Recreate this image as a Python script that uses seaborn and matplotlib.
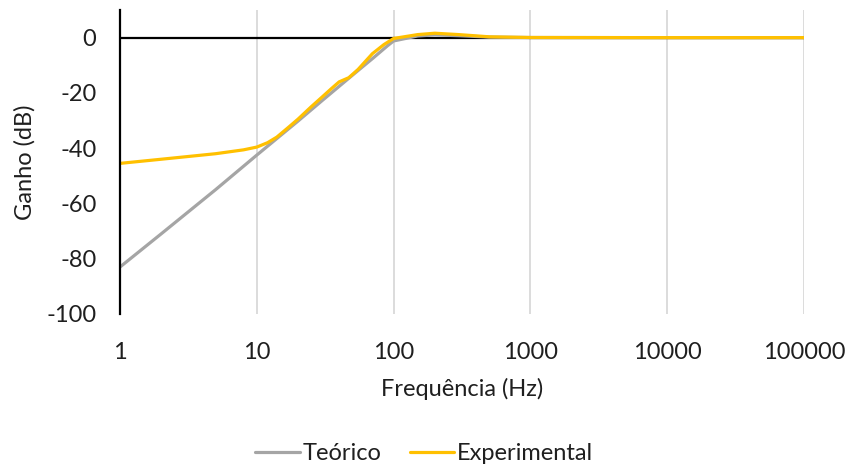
import matplotlib
matplotlib.use("Agg")
import matplotlib.pyplot as plt
import matplotlib.ticker as mticker
from matplotlib.lines import Line2D
import seaborn as sns
import pandas as pd

# Theoretical response of the high-pass filter (dB)
freq_teo = [1, 2, 5, 10, 15, 20, 30, 50, 70, 90, 100, 150, 200, 300, 500, 1000, 10000, 100000]
gain_teo = [-83, -71, -55, -42.5, -35.3, -30.2, -22.8, -13.6, -7.6, -3.0, -1.2, 0.6, 1.0, 0.7, 0.2, 0.05, 0, 0]

# Measured response (dB)
freq_exp = [1, 2, 5, 8, 10, 12, 14, 17, 20, 25, 30, 35, 40, 47, 55, 70, 85, 100, 150, 200, 300, 500, 1000, 10000, 100000]
gain_exp = [-45.5, -44.0, -42.0, -40.6, -39.6, -38.0, -36.0, -32.5, -29.5, -25.0, -21.5, -18.5, -16.0, -14.5, -11.5, -5.8, -2.5, -0.3, 1.1, 1.6, 1.1, 0.3, 0.05, 0, 0]

series_names = ["Teórico", "Experimental"]
series_colors = ["#A5A5A5", "#FFC000"]

y_ticks = [-100, -80, -60, -40, -20, 0]
x_ticks = [1, 10, 100, 1000, 10000, 100000]
x_tick_labels = ["1", "10", "100", "1000", "10000", "100000"]

df = pd.concat([
    pd.DataFrame({"freq": freq_teo, "gain": gain_teo, "serie": series_names[0]}),
    pd.DataFrame({"freq": freq_exp, "gain": gain_exp, "serie": series_names[1]}),
], ignore_index=True)

sns.set_style("white")
plt.rcParams["font.family"] = ["Lato", "DejaVu Sans"]
text_color = "#1f1f1f"

fig = plt.figure(figsize=(8.48, 4.68), dpi=100)
ax = fig.add_axes([120 / 848, 1 - 314 / 468, (804 - 120) / 848, (314 - 10) / 468])

sns.lineplot(data=df, x="freq", y="gain", hue="serie", hue_order=series_names,
             palette=series_colors, sort=False, linewidth=2.3, ax=ax, legend=False)

ax.set_xscale("log")
ax.set_xlim(1, 100000)
ax.set_ylim(-100, 10)
ax.set_xticks(x_ticks)
ax.set_xticklabels(x_tick_labels)
ax.xaxis.set_minor_locator(mticker.NullLocator())
ax.set_yticks(y_ticks)
ax.set_yticklabels([str(v) for v in y_ticks])

ax.grid(axis="x", color="#D9D9D9", linewidth=1.3)
ax.grid(axis="y", visible=False)
ax.set_axisbelow(True)
ax.axhline(0, color="black", linewidth=1.6, zorder=1.5)

for side in ["top", "right", "bottom"]:
    ax.spines[side].set_visible(False)
ax.spines["left"].set_color("black")
ax.spines["left"].set_linewidth(1.6)

ax.tick_params(axis="both", length=0, labelsize=17, labelcolor=text_color)
ax.tick_params(axis="y", pad=17)
ax.tick_params(axis="x", pad=20)

ax.set_xlabel("Frequência (Hz)", fontsize=17, color=text_color, labelpad=11)
ax.set_ylabel("Ganho (dB)", fontsize=17, color=text_color, labelpad=8)

handles = [Line2D([0], [0], color=c, linewidth=2.3) for c in series_colors]
fig.legend(handles, series_names, loc="center", bbox_to_anchor=(0.5, 0.03), ncol=2,
           frameon=False, fontsize=17, handlelength=1.9, handletextpad=0.1,
           columnspacing=1.2, labelcolor=text_color)

fig.savefig("out.png", dpi=100)
